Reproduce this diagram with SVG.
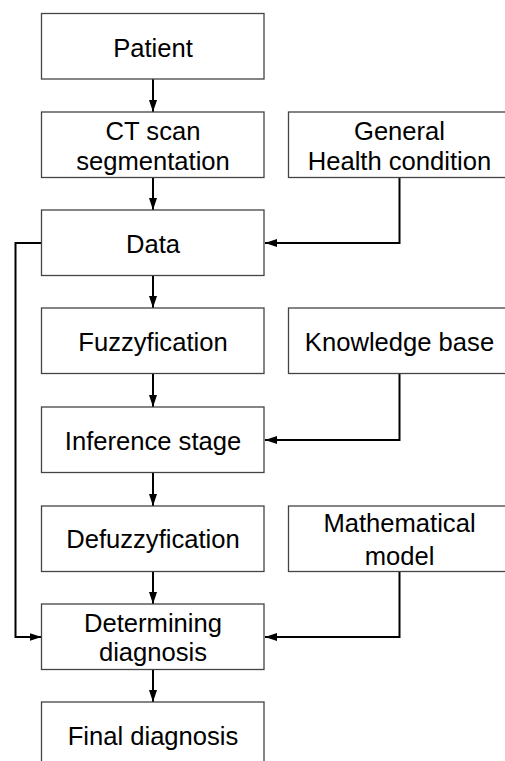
<svg xmlns="http://www.w3.org/2000/svg" width="505" height="761" viewBox="0 0 505 761">
  <style>
    .box { fill: #ffffff; stroke: #444444; stroke-width: 1.3; }
    .lbl { font-family: "Liberation Sans", Arial, sans-serif; font-size: 25.6px; fill: #000000; text-anchor: middle; }
    .wire { fill: none; stroke: #000000; stroke-width: 2; }
  </style>
  <defs>
    <marker id="arrow" viewBox="0 0 12 8" refX="12" refY="4" markerWidth="12" markerHeight="8" markerUnits="userSpaceOnUse" orient="auto">
      <path d="M0,0 L12,4 L0,8 Z" fill="#000000"/>
    </marker>
  </defs>
  <rect width="505" height="761" fill="#ffffff"/>

  <!-- connectors -->
  <g id="connectors">
    <line class="wire" x1="153" y1="79" x2="153" y2="112" marker-end="url(#arrow)"/>
    <line class="wire" x1="153" y1="177" x2="153" y2="210" marker-end="url(#arrow)"/>
    <line class="wire" x1="153" y1="276" x2="153" y2="308" marker-end="url(#arrow)"/>
    <line class="wire" x1="153" y1="374" x2="153" y2="407" marker-end="url(#arrow)"/>
    <line class="wire" x1="153" y1="473" x2="153" y2="506" marker-end="url(#arrow)"/>
    <line class="wire" x1="153" y1="571" x2="153" y2="604" marker-end="url(#arrow)"/>
    <line class="wire" x1="153" y1="670" x2="153" y2="702" marker-end="url(#arrow)"/>
    <polyline class="wire" points="399.5,177 399.5,243 265,243" marker-end="url(#arrow)"/>
    <polyline class="wire" points="399.5,374 399.5,440 265,440" marker-end="url(#arrow)"/>
    <polyline class="wire" points="399.5,571 399.5,637 265,637" marker-end="url(#arrow)"/>
    <polyline class="wire" points="41.5,243 15.5,243 15.5,637 41.5,637" marker-end="url(#arrow)"/>
  </g>

  <!-- main column -->
  <g id="patient">
    <rect class="box" x="41.5" y="13.5" width="222.5" height="65.5"/>
    <text class="lbl" x="153" y="57">Patient</text>
  </g>
  <g id="ct-scan">
    <rect class="box" x="41.5" y="112" width="222.5" height="65.5"/>
    <text class="lbl" x="153" y="140">CT scan</text>
    <text class="lbl" x="153" y="170">segmentation</text>
  </g>
  <g id="data">
    <rect class="box" x="41.5" y="210" width="222.5" height="65.5"/>
    <text class="lbl" x="153" y="253">Data</text>
  </g>
  <g id="fuzzyfication">
    <rect class="box" x="41.5" y="308" width="222.5" height="65.5"/>
    <text class="lbl" x="153" y="351">Fuzzyfication</text>
  </g>
  <g id="inference">
    <rect class="box" x="41.5" y="407" width="222.5" height="65.5"/>
    <text class="lbl" x="153" y="450">Inference stage</text>
  </g>
  <g id="defuzzyfication">
    <rect class="box" x="41.5" y="506" width="222.5" height="65.5"/>
    <text class="lbl" x="153" y="548">Defuzzyfication</text>
  </g>
  <g id="determining">
    <rect class="box" x="41.5" y="604" width="222.5" height="65.5"/>
    <text class="lbl" x="153" y="632">Determining</text>
    <text class="lbl" x="153" y="661">diagnosis</text>
  </g>
  <g id="final">
    <rect class="box" x="41.5" y="702" width="222.5" height="65.5"/>
    <text class="lbl" x="153" y="745">Final diagnosis</text>
  </g>

  <!-- side inputs -->
  <g id="health">
    <rect class="box" x="288.5" y="112" width="223" height="65.5"/>
    <text class="lbl" x="399.5" y="140">General</text>
    <text class="lbl" x="399.5" y="170">Health condition</text>
  </g>
  <g id="knowledge">
    <rect class="box" x="288.5" y="308" width="223" height="65.5"/>
    <text class="lbl" x="399.5" y="351">Knowledge base</text>
  </g>
  <g id="model">
    <rect class="box" x="288.5" y="506" width="223" height="65.5"/>
    <text class="lbl" x="399.5" y="532">Mathematical</text>
    <text class="lbl" x="399.5" y="565">model</text>
  </g>
</svg>
